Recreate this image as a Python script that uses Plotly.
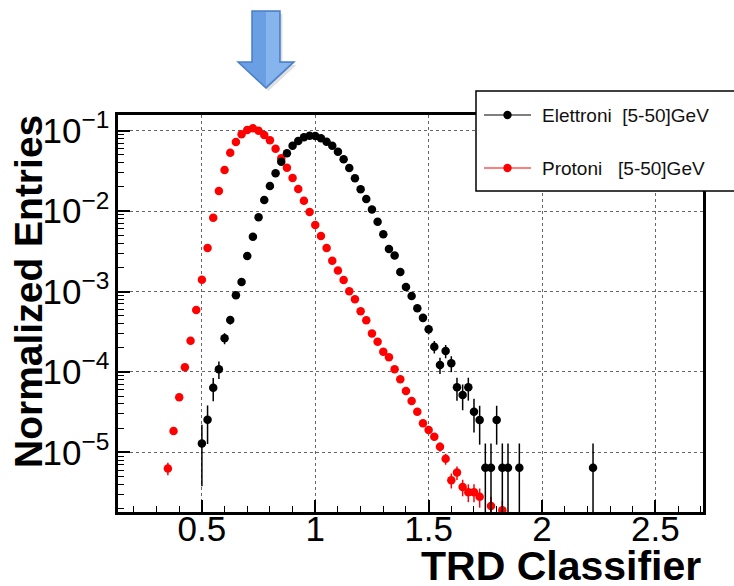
import numpy as np
import plotly.graph_objects as go

# TRD classifier bin centres and normalized entries, electrons [5-50] GeV
ele_x = [0.500, 0.525, 0.550, 0.575, 0.600, 0.625, 0.650, 0.675, 0.700, 0.725,
         0.750, 0.775, 0.800, 0.825, 0.850, 0.875, 0.900, 0.925, 0.950, 0.975,
         1.000, 1.025, 1.050, 1.075, 1.100, 1.125, 1.150, 1.175, 1.200, 1.225,
         1.250, 1.275, 1.300, 1.325, 1.350, 1.375, 1.400, 1.425, 1.450, 1.475,
         1.500, 1.525, 1.550, 1.575, 1.600, 1.625, 1.650, 1.675, 1.700, 1.725,
         1.750, 1.775, 1.800, 1.825, 1.850, 1.900, 2.225]
ele_y = [1.29e-5, 2.55e-5, 6.35e-5, 1.08e-4, 2.62e-4, 4.42e-4, 9.0e-4, 1.31e-3, 2.77e-3, 4.79e-3,
         8.41e-3, 1.374e-2, 2.05e-2, 2.95e-2, 4.11e-2, 5.24e-2, 6.49e-2, 7.45e-2, 8.28e-2, 8.67e-2,
         8.59e-2, 8.04e-2, 7.29e-2, 6.50e-2, 5.48e-2, 4.41e-2, 3.44e-2, 2.56e-2, 1.87e-2, 1.41e-2,
         1.05e-2, 7.38e-3, 5.14e-3, 3.37e-3, 2.80e-3, 1.75e-3, 1.135e-3, 8.8e-4, 6.2e-4, 4.7e-4,
         3.39e-4, 2.06e-4, 1.22e-4, 1.82e-4, 1.28e-4, 6.43e-5, 5.16e-5, 6.43e-5, 3.2e-5, 2.52e-5,
         6.44e-6, 6.44e-6, 2.52e-5, 6.44e-6, 6.44e-6, 6.44e-6, 6.44e-6]

# protons [5-50] GeV
pro_x = [0.350, 0.375, 0.400, 0.425, 0.450, 0.475, 0.500, 0.525, 0.550, 0.575,
         0.600, 0.625, 0.650, 0.675, 0.700, 0.725, 0.750, 0.775, 0.800, 0.825,
         0.850, 0.875, 0.900, 0.925, 0.950, 0.975, 1.000, 1.025, 1.050, 1.075,
         1.100, 1.125, 1.150, 1.175, 1.200, 1.225, 1.250, 1.275, 1.300, 1.325,
         1.350, 1.375, 1.400, 1.425, 1.450, 1.475, 1.500, 1.525, 1.550, 1.575,
         1.600, 1.625, 1.650, 1.675, 1.700, 1.725, 1.775, 1.825]
pro_y = [6.3e-6, 1.84e-5, 4.83e-5, 1.14e-4, 2.44e-4, 5.89e-4, 1.40e-3, 3.47e-3, 8.28e-3, 1.78e-2,
         3.24e-2, 5.32e-2, 7.23e-2, 9.02e-2, 0.102, 0.107, 0.100, 0.0885, 0.0760, 0.0597,
         0.0454, 0.0347, 0.0258, 0.0188, 0.01346, 9.75e-3, 6.71e-3, 4.9e-3, 3.47e-3, 2.42e-3,
         1.82e-3, 1.39e-3, 1.01e-3, 8.0e-4, 5.7e-4, 4.4e-4, 3.0e-4, 2.38e-4, 1.78e-4, 1.52e-4,
         1.08e-4, 8.1e-5, 5.8e-5, 4.35e-5, 3.2e-5, 2.3e-5, 1.89e-5, 1.56e-5, 1.17e-5, 8.3e-6,
         4.5e-6, 5.6e-6, 3.7e-6, 3.2e-6, 3.2e-6, 2.8e-6, 2.15e-6, 1.9e-6]

# normalized weight carried by a single entry of each sample
ELE_WEIGHT = 6.44e-6
PRO_WEIGHT = 2.0e-7


def poisson_errors(values, weight):
    v = np.asarray(values)
    err = np.sqrt(v * weight)
    # on a log axis the lower bar of a one-entry bin runs to the bottom frame
    low = np.minimum(err, v * 0.999)
    return err, low


ele_hi, ele_lo = poisson_errors(ele_y, ELE_WEIGHT)
pro_hi, pro_lo = poisson_errors(pro_y, PRO_WEIGHT)

FONT = "Liberation Sans, Arial, Helvetica, sans-serif"

# plot-area geometry (pixels) used for paper-coordinate decorations
L, T, W, H = 118, 115, 585, 397


def px(x):
    return (x - L) / W


def py(y):
    return (T + H - y) / H


fig = go.Figure()

fig.add_trace(go.Scatter(
    x=pro_x, y=pro_y, mode="markers", name="Protoni [5-50]GeV",
    marker=dict(color="#ff0000", size=8.5),
    error_y=dict(type="data", array=pro_hi, arrayminus=pro_lo,
                 color="#ff0000", thickness=1.5, width=0),
    showlegend=False,
))
fig.add_trace(go.Scatter(
    x=ele_x, y=ele_y, mode="markers", name="Elettroni [5-50]GeV",
    marker=dict(color="#000000", size=8.5),
    error_y=dict(type="data", array=ele_hi, arrayminus=ele_lo,
                 color="#000000", thickness=1.5, width=0),
    showlegend=False,
))

shapes = []

# down arrow above the proton peak
arrow_pts = [(252, 11), (280, 11), (280, 62), (294, 62), (266, 88), (238, 62), (252, 62)]


def path_of(pts, dx=0, dy=0):
    s = "M " + " L ".join(f"{px(x + dx):.5f},{py(y + dy):.5f}" for x, y in pts)
    return s + " Z"


shapes.append(dict(type="path", xref="paper", yref="paper", path=path_of(arrow_pts, 2.5, 3),
                   fillcolor="rgba(0,0,0,0.12)", line=dict(width=0), layer="above"))
shapes.append(dict(type="path", xref="paper", yref="paper", path=path_of(arrow_pts),
                   fillcolor="#6a9fe4", line=dict(color="#4a7fc6", width=1.5), layer="above"))
light_pts = [(266, 12), (279, 12), (279, 63), (291, 63), (266, 86)]
shapes.append(dict(type="path", xref="paper", yref="paper", path=path_of(light_pts),
                   fillcolor="#8dbaf0", line=dict(width=0), layer="above", opacity=0.8))

# legend box
shapes.append(dict(type="rect", xref="paper", yref="paper",
                   x0=px(476), x1=px(740), y0=py(191), y1=py(91),
                   fillcolor="white", line=dict(color="black", width=1.5), layer="above"))
legend_rows = [(115, "#000000", "Elettroni\u00a0\u00a0[5-50]GeV"),
               (168, "#ff0000", "Protoni\u00a0\u00a0\u00a0[5-50]GeV")]
annotations = []
for ypix, col, label in legend_rows:
    shapes.append(dict(type="line", xref="paper", yref="paper",
                       x0=px(484), x1=px(531), y0=py(ypix), y1=py(ypix),
                       line=dict(color=col, width=1.2), layer="above"))
    r = 4.2
    shapes.append(dict(type="circle", xref="paper", yref="paper",
                       x0=px(507.5 - r), x1=px(507.5 + r), y0=py(ypix + r), y1=py(ypix - r),
                       fillcolor=col, line=dict(color=col, width=0), layer="above"))
    annotations.append(dict(xref="paper", yref="paper", x=px(540), y=py(ypix),
                            xanchor="left", yanchor="middle", showarrow=False, text=label,
                            font=dict(family=FONT, size=19, color="#111111")))

# axis titles
annotations.append(dict(xref="paper", yref="paper", x=px(28), y=py(292),
                        xanchor="center", yanchor="middle", showarrow=False, textangle=-90,
                        text="<b>Normalized Entries</b>",
                        font=dict(family=FONT, size=39, color="black")))
annotations.append(dict(xref="paper", yref="paper", x=px(703), y=py(566),
                        xanchor="right", yanchor="middle", showarrow=False,
                        text="<b>TRD Classifier</b>",
                        font=dict(family=FONT, size=41, color="black")))

fig.update_layout(
    width=734, height=586,
    margin=dict(l=L, r=734 - L - W, t=T, b=586 - T - H, autoexpand=False),
    paper_bgcolor="white", plot_bgcolor="white",
    shapes=shapes, annotations=annotations,
    font=dict(family=FONT, color="black"),
)

fig.update_xaxes(
    range=[0.13, 2.71], tickmode="linear", tick0=0.5, dtick=0.5,
    ticks="inside", ticklen=12, tickwidth=1.5, tickcolor="black",
    minor=dict(dtick=0.1, tick0=0.5, ticks="inside", ticklen=6, tickwidth=1.2,
               tickcolor="black", showgrid=False),
    showgrid=True, gridcolor="#666666", griddash="dot", gridwidth=1,
    showline=True, linewidth=3, linecolor="black", mirror=True,
    zeroline=False, tickfont=dict(family=FONT, size=35, color="black"),
    ticklabelstandoff=-16,
)
fig.update_yaxes(
    type="log", range=[-5.742, -0.805], dtick=1, exponentformat="power",
    ticks="inside", ticklen=12, tickwidth=1.5, tickcolor="black",
    minor=dict(dtick="D1", ticks="inside", ticklen=6, tickwidth=1.2,
               tickcolor="black", showgrid=False),
    showgrid=True, gridcolor="#666666", griddash="dot", gridwidth=1,
    showline=True, linewidth=3, linecolor="black", mirror=True,
    zeroline=False, tickfont=dict(family=FONT, size=28, color="black"),
)

fig.write_html("out.html")
